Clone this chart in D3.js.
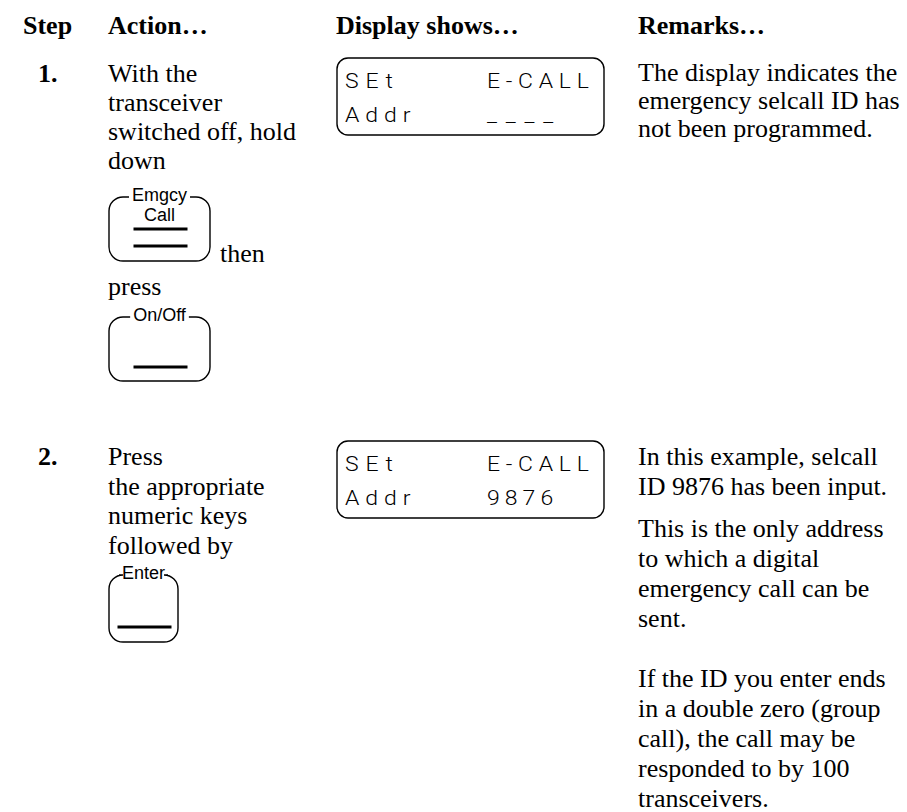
<!DOCTYPE html>
<html>
<head>
<meta charset="utf-8">
<script src="https://cdn.jsdelivr.net/npm/d3@7/dist/d3.min.js"></script>
<style>
  html, body { margin: 0; padding: 0; background: #fff; }
  svg { display: block; }
</style>
</head>
<body>
<div id="chart"></div>
<script>
// ---------- content ----------
const headers = ["Step", "Action…", "Display shows…", "Remarks…"];
const stepNumbers = ["1.", "2."];
const step1Action = ["With the", "transceiver", "switched off, hold", "down"];
const step1Then = "then";
const step1Press = "press";
const step2Action = ["Press", "the appropriate", "numeric keys", "followed by"];
const keyEmgcy = ["Emgcy", "Call"];
const keyOnOff = ["On/Off"];
const keyEnter = ["Enter"];
const display1 = [["SEt", "E-CALL"], ["Addr", "____"]];
const display2 = [["SEt", "E-CALL"], ["Addr", "9876"]];
const remarks1 = [["The display indicates the", "emergency selcall ID has", "not been programmed."]];
const remarks2 = [
  ["In this example, selcall", "ID 9876 has been input."],
  ["This is the only address", "to which a digital", "emergency call can be", "sent."],
  ["If the ID you enter ends", "in a double zero (group", "call), the call may be", "responded to by 100", "transceivers."]
];

// ---------- layout ----------
const W = 907, H = 812;
const serif = "'Liberation Serif', 'Times New Roman', serif";
const sans = "'Liberation Sans', Arial, sans-serif";
const lcdFont = "Roboto, 'DejaVu Sans', sans-serif";
const FS = 26;
const colX = d3.scaleOrdinal().domain(headers).range([23, 108, 336, 638]);

const svg = d3.select("#chart").append("svg").attr("width", W).attr("height", H)
  .style("background", "#fff");

// headers
svg.append("g").selectAll("text").data(headers).join("text")
  .attr("x", d => colX(d)).attr("y", 34)
  .attr("font-family", serif).attr("font-size", FS).attr("font-weight", "bold")
  .attr("fill", "#000").text(d => d);

// step numbers
const stepY = [82, 465];
svg.append("g").selectAll("text").data(stepNumbers).join("text")
  .attr("x", 38).attr("y", (d, i) => stepY[i])
  .attr("font-family", serif).attr("font-size", FS).attr("font-weight", "bold")
  .attr("fill", "#000").text(d => d);

function textLines(lines, x, y0, lh) {
  svg.append("g").selectAll("text").data(lines).join("text")
    .attr("x", x).attr("y", (d, i) => y0 + i * lh)
    .attr("font-family", serif).attr("font-size", FS).attr("fill", "#000")
    .text(d => d);
}

function paragraphs(paras, x, starts, lh) {
  paras.forEach((p, i) => textLines(p, x, starts[i], lh));
}

// action column
textLines(step1Action, colX("Action…"), 82, 29);
svg.append("text").attr("x", 220).attr("y", 262)
  .attr("font-family", serif).attr("font-size", FS).text(step1Then);
svg.append("text").attr("x", 108).attr("y", 295)
  .attr("font-family", serif).attr("font-size", FS).text(step1Press);
textLines(step2Action, colX("Action…"), 465, 29.5);

// keys
function drawKey(x, y, w, h, labels, bars) {
  const g = svg.append("g");
  const r = 14, cx = x + w / 2;
  const lab = g.selectAll("text").data(labels).join("text")
    .attr("x", cx).attr("y", (d, i) => y + 4 + i * 20)
    .attr("text-anchor", "middle")
    .attr("font-family", sans).attr("font-size", 18).attr("fill", "#000")
    .text(d => d);
  const firstW = lab.node().getComputedTextLength();
  const gl = cx - firstW / 2 - 3, gr = cx + firstW / 2 + 3;
  const p = d3.path();
  p.moveTo(gr, y);
  p.lineTo(x + w - r, y);
  p.arcTo(x + w, y, x + w, y + r, r);
  p.lineTo(x + w, y + h - r);
  p.arcTo(x + w, y + h, x + w - r, y + h, r);
  p.lineTo(x + r, y + h);
  p.arcTo(x, y + h, x, y + h - r, r);
  p.lineTo(x, y + r);
  p.arcTo(x, y, x + r, y, r);
  p.lineTo(gl, y);
  g.append("path").attr("d", p.toString()).attr("fill", "none")
    .attr("stroke", "#000").attr("stroke-width", 1.4);
  g.selectAll("line").data(bars).join("line")
    .attr("x1", cx - 27 + 1).attr("x2", cx + 27 + 1)
    .attr("y1", d => y + d).attr("y2", d => y + d)
    .attr("stroke", "#000").attr("stroke-width", 3);
}
drawKey(109, 197, 101, 64, keyEmgcy, [32, 49]);
drawKey(109, 317, 101, 64, keyOnOff, [50]);
drawKey(109, 575, 69, 67, keyEnter, [52]);

// LCD displays
function drawDisplay(top, rows) {
  const x = 337, w = 267, h = 77;
  const g = svg.append("g");
  g.append("rect").attr("x", x).attr("y", top).attr("width", w).attr("height", h)
    .attr("rx", 11).attr("ry", 11).attr("fill", "none")
    .attr("stroke", "#000").attr("stroke-width", 1.4);
  const rowY = [29.5, 64];
  const sx = 1.15;
  rows.forEach((row, i) => {
    [[row[0], 345, 17.6], [row[1], 487, 17.8]].forEach(([t, tx, adv]) => {
      g.append("text")
        .attr("transform", `translate(${tx},${top + rowY[i]}) scale(${sx},1)`)
        .attr("x", 0).attr("y", 0)
        .attr("font-family", lcdFont).attr("font-weight", 300)
        .attr("font-size", 20).attr("fill", "#000")
        .attr("textLength", (t.length * adv - 5) / sx).attr("lengthAdjust", "spacing")
        .text(t);
    });
  });
}
drawDisplay(58, display1);
drawDisplay(441, display2);

// remarks
paragraphs(remarks1, colX("Remarks…"), [81], 28);
paragraphs(remarks2, colX("Remarks…"), [465, 537, 687], 30);
</script>
</body>
</html>
